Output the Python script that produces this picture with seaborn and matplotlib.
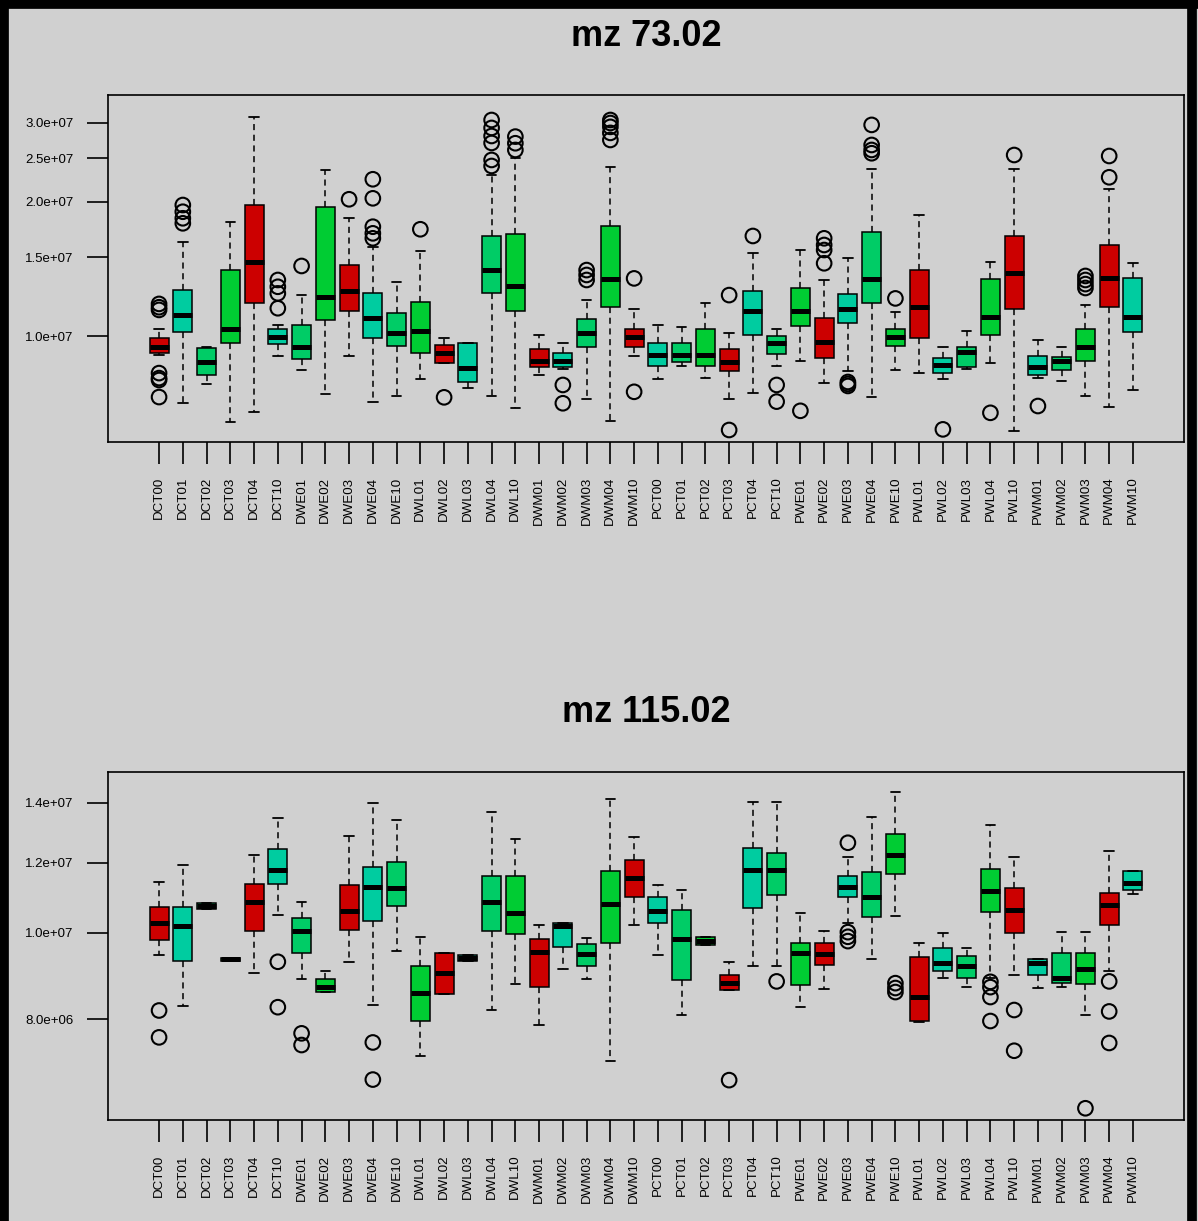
import numpy as np
import pandas as pd
import matplotlib
matplotlib.use("Agg")
import matplotlib.pyplot as plt
import seaborn as sns
from matplotlib.ticker import FixedLocator, FixedFormatter, NullLocator
from matplotlib.lines import Line2D

# ---------------- data ----------------
categories = ["DCT00", "DCT01", "DCT02", "DCT03", "DCT04", "DCT10",
              "DWE01", "DWE02", "DWE03", "DWE04", "DWE10",
              "DWL01", "DWL02", "DWL03", "DWL04", "DWL10",
              "DWM01", "DWM02", "DWM03", "DWM04", "DWM10",
              "PCT00", "PCT01", "PCT02", "PCT03", "PCT04", "PCT10",
              "PWE01", "PWE02", "PWE03", "PWE04", "PWE10",
              "PWL01", "PWL02", "PWL03", "PWL04", "PWL10",
              "PWM01", "PWM02", "PWM03", "PWM04", "PWM10"]

SCALE = 1e6

# mz 73.02 : whisker low, Q1, median, Q3, whisker high (x 1e6)
mz73_lo  = [9.07, 7.09, 7.81, 6.43, 6.77, 9.02, 8.39, 7.41, 9.02, 7.13, 7.34,
            8.00, 8.69, 7.66, 7.34, 6.89, 8.18, 8.45, 7.21, 6.46, 9.03,
            8.00, 8.57, 8.04, 7.21, 7.44, 8.57, 8.81, 7.84, 8.35, 7.31, 8.39,
            8.28, 8.00, 8.42, 8.72, 6.14, 8.04, 7.94, 7.34, 6.95, 7.57]
mz73_q1  = [9.15, 10.22, 8.18, 9.63, 11.87, 9.60, 8.87, 10.86, 11.37, 9.88, 9.51,
            9.15, 8.72, 7.90, 12.50, 11.37, 8.54, 8.54, 9.43, 11.60, 9.43,
            8.57, 8.76, 8.57, 8.35, 10.05, 9.10, 10.53, 8.91, 10.71, 11.87, 9.50,
            9.88, 8.28, 8.54, 10.05, 11.47, 8.18, 8.39, 8.81, 11.63, 10.22]
mz73_med = [9.46, 11.14, 8.76, 10.35, 14.67, 9.96, 9.43, 12.24, 12.63, 10.95, 10.17,
            10.28, 9.15, 8.47, 14.05, 12.94, 8.79, 8.81, 10.17, 13.39, 9.93,
            9.07, 9.07, 9.07, 8.76, 11.39, 9.63, 11.39, 9.68, 11.47, 13.39, 9.93,
            11.63, 8.61, 9.22, 11.05, 13.86, 8.54, 8.81, 9.43, 13.46, 11.05]
mz73_q3  = [9.88, 12.67, 9.39, 14.05, 19.65, 10.35, 10.58, 19.48, 14.42, 12.46, 11.24,
            11.93, 9.55, 9.66, 16.75, 16.92, 9.34, 9.15, 10.90, 17.63, 10.35,
            9.63, 9.63, 10.35, 9.34, 12.63, 10.00, 12.79, 10.95, 12.42, 17.12, 10.35,
            14.05, 8.94, 9.46, 13.39, 16.75, 9.02, 8.99, 10.35, 15.99, 13.46]
mz73_hi  = [10.35, 16.26, 9.43, 18.03, 30.89, 10.58, 12.35, 23.54, 18.35, 15.85, 13.23,
            15.50, 9.88, 9.66, 22.94, 25.00, 10.05, 9.63, 12.04, 23.87, 11.50,
            10.58, 10.46, 11.87, 10.14, 15.37, 10.35, 15.58, 13.35, 14.93, 23.62, 11.33,
            18.66, 9.43, 10.28, 14.67, 23.62, 9.79, 9.43, 11.73, 21.31, 14.60]
mz73_out = [[11.80, 11.60, 11.44, 8.26, 8.05, 7.97, 7.30],
            [19.65, 18.98, 18.35, 17.88], [], [], [],
            [13.35, 12.89, 12.46, 11.54],
            [14.35], [], [20.24], [22.44, 20.34, 17.57, 16.98, 16.55], [],
            [17.34], [7.29], [], [30.46, 29.24, 28.05, 27.06, 24.79, 24.03],
            [27.96, 27.02, 26.10],
            [], [7.77, 7.07], [14.05, 13.70, 13.35],
            [30.46, 29.99, 29.40, 28.50, 27.48], [13.46, 7.50],
            [], [], [], [12.35, 6.16], [16.75], [7.77, 7.13],
            [6.80], [16.55, 15.99, 15.58, 14.55], [7.89, 7.81, 7.73],
            [29.70, 26.78, 26.10, 25.66], [12.14],
            [], [6.18], [], [6.73], [25.43],
            [6.97], [], [13.63, 13.35, 13.07, 12.81], [25.30, 22.67], []]

# mz 115.02
mz115_lo  = [9.45, 8.28, 10.65, 9.30, 9.02, 10.48, 8.87, 8.59, 9.28, 8.30, 9.55,
             7.27, 8.54, 9.30, 8.20, 8.76, 7.88, 9.10, 8.87, 7.17, 10.21,
             9.45, 8.09, 9.70, 8.63, 9.17, 9.17, 8.25, 8.64, 10.25, 9.34, 10.45,
             7.94, 8.89, 8.70, 8.89, 8.97, 8.67, 8.70, 8.09, 9.07, 11.06]
mz115_q1  = [9.82, 9.30, 10.65, 9.30, 10.06, 11.35, 9.50, 8.59, 10.08, 10.31, 10.73,
             7.97, 8.54, 9.30, 10.06, 9.97, 8.69, 9.64, 9.17, 9.74, 10.98,
             10.25, 8.86, 9.70, 8.63, 10.66, 11.03, 8.74, 9.20, 10.98, 10.43, 11.65,
             7.95, 9.07, 8.89, 10.57, 10.01, 8.97, 8.79, 8.76, 10.21, 11.18]
mz115_med = [10.27, 10.18, 10.72, 9.34, 10.84, 11.77, 10.06, 8.70, 10.59, 11.26, 11.23,
             8.57, 9.01, 9.37, 10.82, 10.52, 9.53, 10.18, 9.47, 10.78, 11.52,
             10.59, 9.84, 9.80, 8.78, 11.77, 11.77, 9.50, 9.47, 11.27, 10.97, 12.24,
             8.46, 9.24, 9.17, 11.16, 10.61, 9.26, 8.89, 9.10, 10.75, 11.37]
mz115_q3  = [10.69, 10.70, 10.80, 9.38, 11.35, 12.42, 10.39, 8.87, 11.32, 11.87, 12.02,
             9.18, 9.49, 9.44, 11.59, 11.59, 9.84, 10.25, 9.72, 11.74, 12.08,
             10.97, 10.61, 9.90, 8.97, 12.45, 12.31, 9.74, 9.74, 11.59, 11.72, 12.92,
             9.39, 9.61, 9.41, 11.79, 11.23, 9.34, 9.50, 9.50, 11.08, 11.75]
mz115_hi  = [11.42, 11.92, 10.80, 9.38, 12.24, 13.46, 10.84, 9.07, 12.85, 13.99, 13.40,
             9.89, 9.49, 9.44, 13.69, 12.74, 10.21, 10.25, 9.86, 14.13, 12.83,
             11.32, 11.18, 9.90, 9.28, 14.05, 14.05, 10.54, 10.06, 12.18, 13.51, 14.41,
             9.75, 9.99, 9.61, 13.23, 12.18, 9.34, 10.03, 10.03, 12.37, 11.75]
mz115_out = [[8.18, 7.63], [], [], [], [], [9.28, 8.25],
             [7.71, 7.48], [], [], [7.53, 6.84], [],
             [], [], [], [], [],
             [], [], [], [], [],
             [], [], [], [6.83], [], [8.82],
             [], [], [12.63, 10.02, 9.90, 9.79], [], [8.78, 8.67, 8.58],
             [], [], [], [8.81, 8.69, 8.47, 7.96], [8.19, 7.37],
             [], [], [6.35], [8.82, 8.16, 7.52], []]

mz73_ticks = [1.0e7, 1.5e7, 2.0e7, 2.5e7, 3.0e7]
mz73_ticklabels = ["1.0e+07", "1.5e+07", "2.0e+07", "2.5e+07", "3.0e+07"]
mz115_ticks = [8.0e6, 1.0e7, 1.2e7, 1.4e7]
mz115_ticklabels = ["8.0e+06", "1.0e+07", "1.2e+07", "1.4e+07"]

BOX_COLORS = ["#cc0000", "#00cca0", "#00cc66", "#00cc33"]
BG = "#d0d0d0"

# ---------------- figure ----------------
sns.set_theme(style="white")
plt.rcParams["font.family"] = ["Liberation Sans", "DejaVu Sans"]
plt.rcParams["text.color"] = "black"
plt.rcParams["xtick.color"] = "black"
plt.rcParams["ytick.color"] = "black"
plt.rcParams["axes.labelcolor"] = "black"

W, H = 1198, 1221
fig = plt.figure(figsize=(W / 100, H / 100), dpi=100, facecolor=BG)

palette = {c: BOX_COLORS[i % len(BOX_COLORS)] for i, c in enumerate(categories)}


def panel(rect, lo, q1, med, q3, hi, outl, ticks, ticklabels, ylim, title, title_y):
    ax = fig.add_axes(rect)
    ax.set_facecolor(BG)
    ax.set_yscale("log")
    rows = []
    for i, c in enumerate(categories):
        for v in (lo[i], q1[i], med[i], q3[i], hi[i]):
            rows.append((c, v * SCALE))
    df = pd.DataFrame(rows, columns=["cat", "val"])
    orows = [(c, v * SCALE) for i, c in enumerate(categories) for v in outl[i]]
    odf = pd.DataFrame(orows, columns=["cat", "val"])

    sns.boxplot(data=df, x="cat", y="val", hue="cat", order=categories,
                hue_order=categories, palette=palette, legend=False,
                whis=(0, 100), showfliers=False, width=0.8, saturation=1,
                linecolor="black", linewidth=1.1,
                medianprops=dict(linewidth=3.6, color="black"),
                whiskerprops=dict(linestyle=(0, (4, 3)), linewidth=1.1, color="black"),
                capprops=dict(linewidth=1.3, color="black"),
                ax=ax)
    sns.stripplot(data=odf, x="cat", y="val", order=categories, jitter=False,
                  size=10.5, marker="o", color="black", ax=ax)
    for coll in ax.collections:
        coll.set_facecolor("none")
        coll.set_edgecolor("black")
        coll.set_linewidth(1.5)

    ax.set_xlim(-2.15, len(categories) + 1.15)
    ax.set_ylim(*ylim)
    ax.yaxis.set_major_locator(FixedLocator(ticks))
    ax.yaxis.set_major_formatter(FixedFormatter(ticklabels))
    ax.yaxis.set_minor_locator(NullLocator())
    ax.set_xlabel("")
    ax.set_ylabel("")
    ax.tick_params(axis="y", which="major", length=15, width=1.2, color="black",
                   labelcolor="black", labelsize=9.5, pad=10, direction="out",
                   left=True)
    ax.tick_params(axis="x", which="major", length=16, width=1.2, color="black",
                   labelcolor="black", labelsize=9.6, pad=9, direction="out",
                   bottom=True, labelrotation=90)
    for s in ax.spines.values():
        s.set_visible(True)
        s.set_color("black")
        s.set_linewidth(1.2)
    fig.text(0.5 * (rect[0] * 2 + rect[2]), title_y, title, ha="center",
             va="center", fontsize=26, fontweight="bold", color="black")
    return ax


def fx(px):
    return px / W


def fy(py):
    return 1 - py / H


panel([fx(108), fy(442), fx(1184) - fx(108), fy(95) - fy(442)],
      mz73_lo, mz73_q1, mz73_med, mz73_q3, mz73_hi, mz73_out,
      mz73_ticks, mz73_ticklabels, (5.79e6, 3.465e7), "mz 73.02", fy(36))
panel([fx(108), fy(1120), fx(1184) - fx(108), fy(772) - fy(1120)],
      mz115_lo, mz115_q1, mz115_med, mz115_q3, mz115_hi, mz115_out,
      mz115_ticks, mz115_ticklabels, (6.16e6, 1.517e7), "mz 115.02", fy(712))

# outer black frame (left, top, right)
for xs, ys in (([0.003, 0.003], [0, 1]), ([0, 1], [0.997, 0.997]), ([0.995, 0.995], [0, 1])):
    fig.add_artist(Line2D(xs, ys, transform=fig.transFigure, color="black", linewidth=7))

fig.savefig("out.png", dpi=100, facecolor=BG)
